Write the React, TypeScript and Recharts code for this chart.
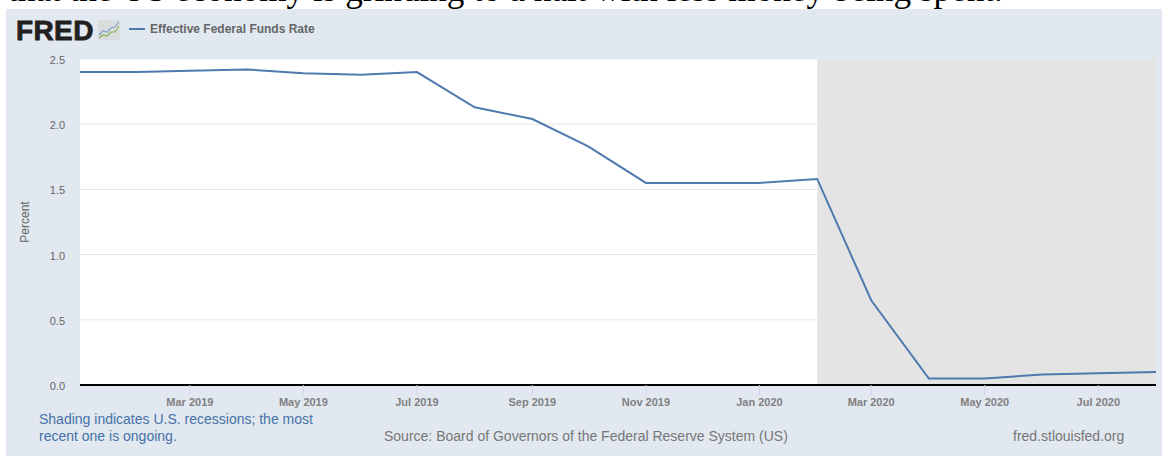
import React from 'react';
import { ComposedChart, Line, XAxis, YAxis, CartesianGrid, ReferenceArea } from 'recharts';

const months = ['2019-01-01','2019-02-01','2019-03-01','2019-04-01','2019-05-01','2019-06-01','2019-07-01','2019-08-01','2019-09-01','2019-10-01','2019-11-01','2019-12-01','2020-01-01','2020-02-01','2020-03-01','2020-04-01','2020-05-01','2020-06-01','2020-07-01','2020-08-01'];
const rates = [2.40,2.40,2.41,2.42,2.39,2.38,2.40,2.13,2.04,1.83,1.55,1.55,1.55,1.58,0.65,0.05,0.05,0.08,0.09,0.10];
const xTickDates = ['2019-03-01','2019-05-01','2019-07-01','2019-09-01','2019-11-01','2020-01-01','2020-03-01','2020-05-01','2020-07-01'];
const xTickLabels = ['Mar 2019','May 2019','Jul 2019','Sep 2019','Nov 2019','Jan 2020','Mar 2020','May 2020','Jul 2020'];
const yTicks = [0, 0.5, 1, 1.5, 2, 2.5];
const recessionStart = '2020-02-01';
const recessionEnd = '2020-08-01';

const ts = (s: string) => Date.parse(s + 'T00:00:00Z');
const data = months.map((m, i) => ({ t: ts(m), rate: rates[i] }));
const labelByTs = new Map(xTickDates.map((d, i) => [ts(d), xTickLabels[i]]));
const SANS = '"Liberation Sans", Arial, sans-serif';

const abs = (style: React.CSSProperties): React.CSSProperties => ({ position: 'absolute', whiteSpace: 'nowrap', fontFamily: SANS, ...style });

export default function App() {
  return (
    <div style={{ position: 'fixed', left: 0, top: 0, width: 1162, height: 456, background: '#fff', overflow: 'hidden' }}>
      <div style={abs({ left: 8, top: -30, fontFamily: '"Liberation Serif", serif', fontSize: 35.2, lineHeight: '40px', color: '#000' })}>
        that the US economy is grinding to a halt with less money being spent.
      </div>
      <div style={{ position: 'absolute', left: 6, top: 9, width: 1156, height: 447, background: '#e1e8f0' }} />
      <div style={{ position: 'absolute', left: 0, top: 0 }}>
        <ComposedChart width={1162} height={456} data={data} margin={{ top: 59, right: 6, bottom: 0, left: 0 }}>
          <CartesianGrid horizontal vertical={false} stroke="#e6e6e6" fill="#ffffff" />
          <ReferenceArea x1={ts(recessionStart)} x2={ts(recessionEnd)} y1={0} y2={2.5} fill="#e4e4e4" fillOpacity={1} stroke="none" />
          <XAxis
            dataKey="t"
            type="number"
            scale="time"
            domain={[ts(months[0]), ts(months[months.length - 1])]}
            ticks={xTickDates.map(ts)}
            tickFormatter={(v: number) => labelByTs.get(v) ?? ''}
            height={71}
            tick={{ fontSize: 11, fontWeight: 700, fill: '#808080', fontFamily: SANS, dy: 1 }}
            tickLine={{ stroke: '#ccd6eb' }}
            tickSize={10}
            tickMargin={2}
            axisLine={{ stroke: '#000', strokeWidth: 2 }}
            interval={0}
          />
          <YAxis
            type="number"
            domain={[0, 2.5]}
            ticks={yTicks}
            tickFormatter={(v: number) => v.toFixed(1)}
            width={80}
            tick={{ fontSize: 11, fill: '#666', fontFamily: SANS, dy: 1 }}
            tickLine={false}
            tickSize={0}
            tickMargin={15}
            axisLine={false}
            label={{ value: 'Percent', angle: -90, position: 'insideLeft', offset: 25, style: { fontSize: 12, fill: '#666', fontFamily: SANS, textAnchor: 'middle' } }}
          />
          <Line type="linear" dataKey="rate" stroke="#4f7aae" strokeWidth={2} dot={false} isAnimationActive={false} />
        </ComposedChart>
      </div>
      <div style={abs({ left: 16, top: 17, fontSize: 28, fontWeight: 700, lineHeight: '28px', color: '#231f20', letterSpacing: 0.4, WebkitTextStroke: '0.8px #231f20' })}>FRED</div>
      <svg style={{ position: 'absolute', left: 98, top: 20 }} width={22} height={20}>
        <rect x={0} y={0} width={22} height={20} rx={2} fill="#d9dcdc" />
        <polyline points="1,15 5,11 9,12 13,8 17,7 21,2" fill="none" stroke="#7fa3c9" strokeWidth={1.2} />
        <polyline points="1,18 5,15 9,16 13,12 17,12 21,6" fill="none" stroke="#8db255" strokeWidth={1.2} />
      </svg>
      <svg style={{ position: 'absolute', left: 129, top: 27 }} width={17} height={4}>
        <line x1={0} y1={2} x2={16} y2={2} stroke="#4f7aae" strokeWidth={2} />
      </svg>
      <div style={abs({ left: 150, top: 22, fontSize: 12, fontWeight: 700, lineHeight: '14px', color: '#666' })}>Effective Federal Funds Rate</div>
      <div style={abs({ left: 39, top: 411, fontSize: 14, lineHeight: '17px', color: '#4572a7' })}>
        Shading indicates U.S. recessions; the most<br />recent one is ongoing.
      </div>
      <div style={abs({ left: 384, top: 428, fontSize: 14, lineHeight: '17px', color: '#777' })}>Source: Board of Governors of the Federal Reserve System (US)</div>
      <div style={abs({ left: 1013, top: 428, fontSize: 14, lineHeight: '17px', color: '#777' })}>fred.stlouisfed.org</div>
    </div>
  );
}
